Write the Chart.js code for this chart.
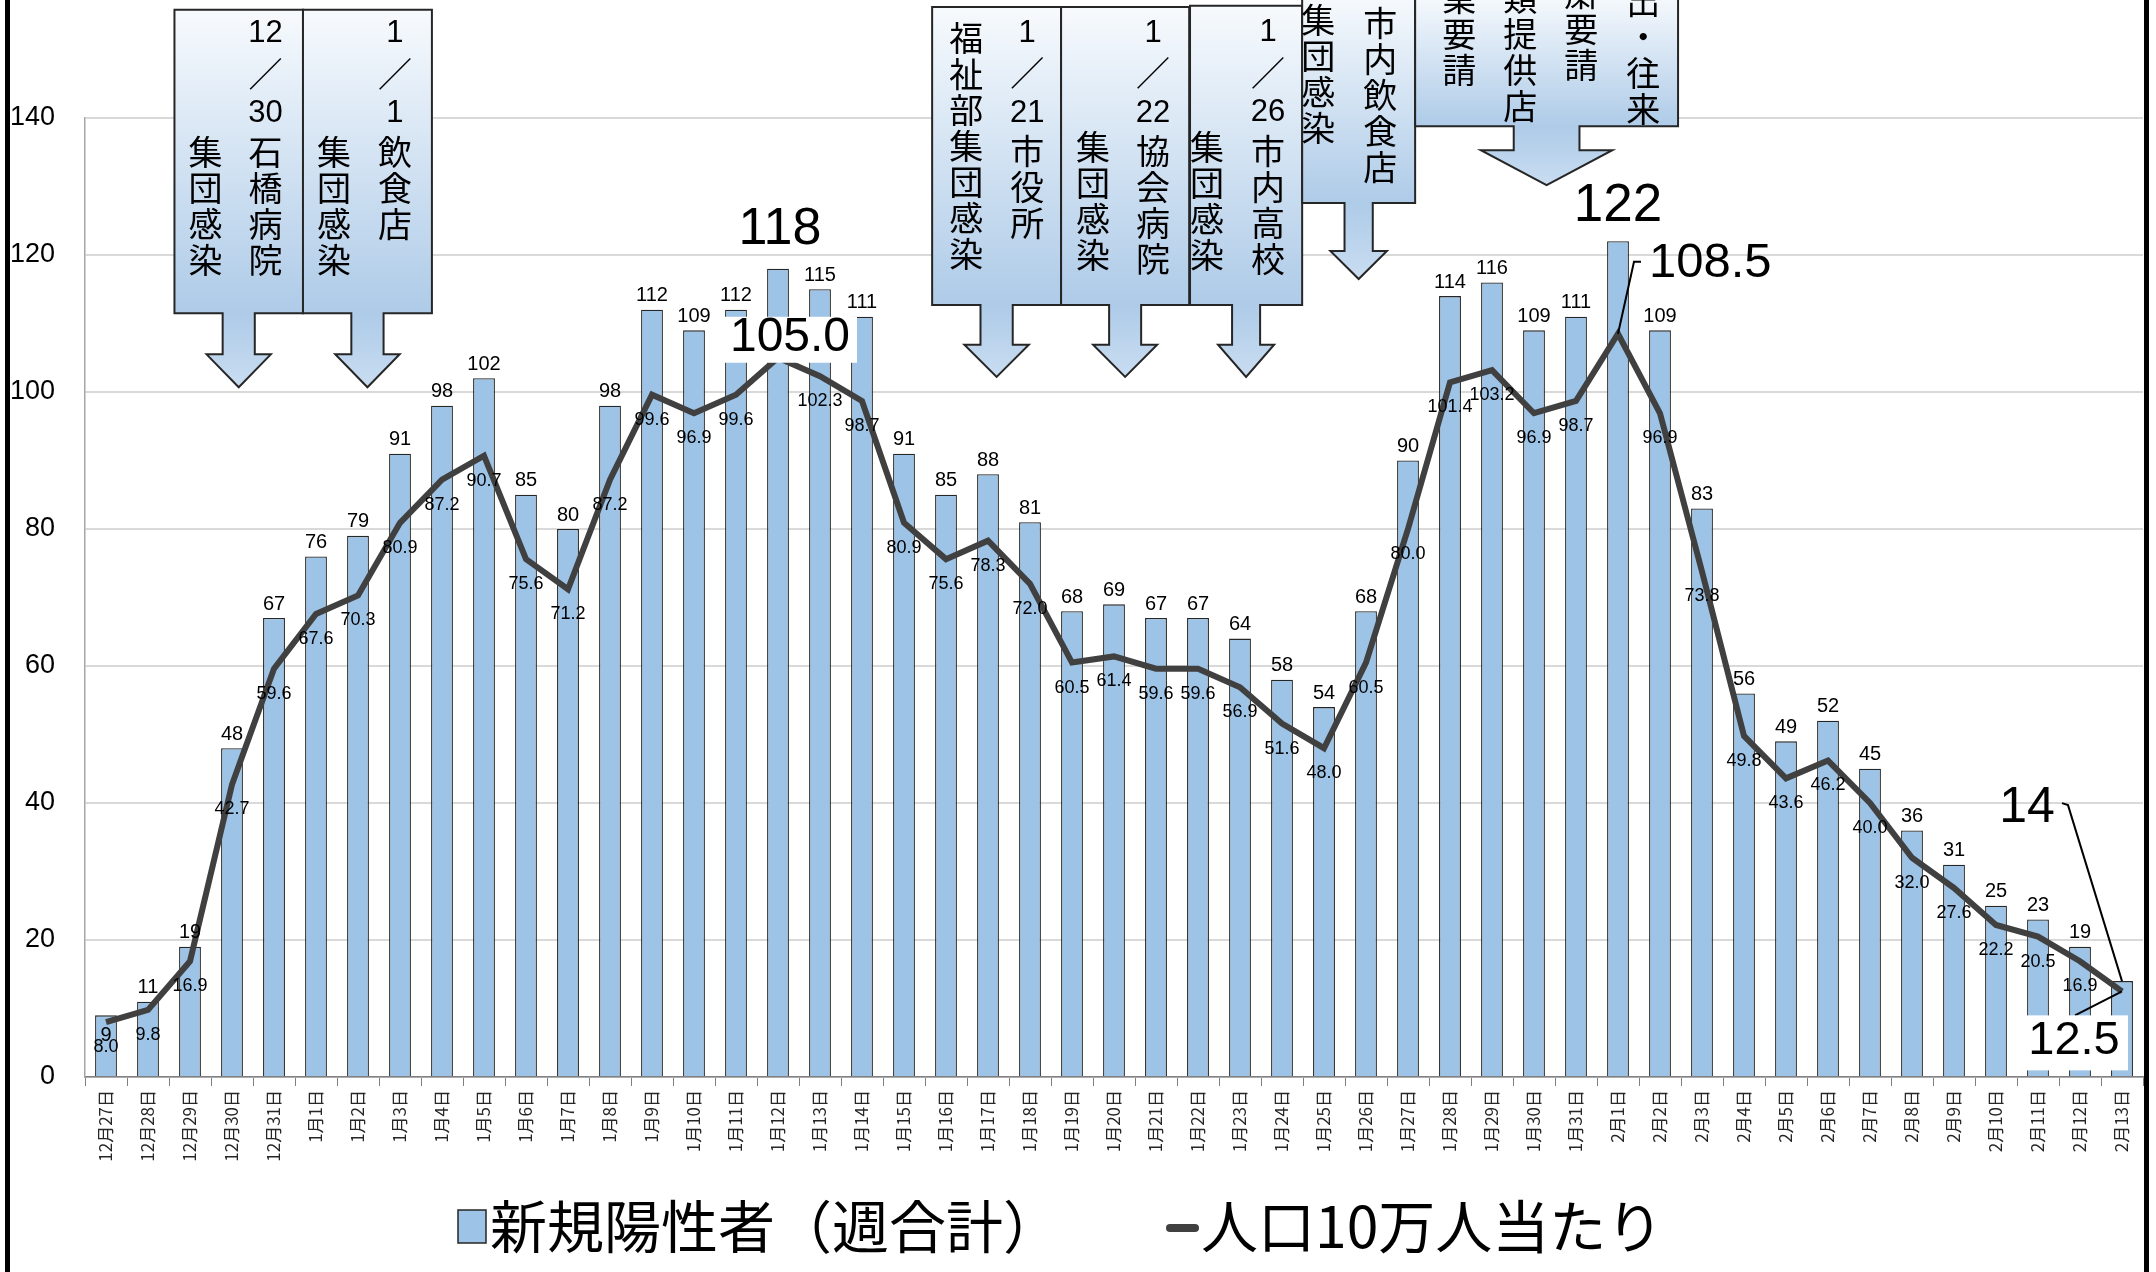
<!DOCTYPE html>
<html>
<head>
<meta charset="utf-8">
<script src="https://cdn.jsdelivr.net/npm/chart.js"></script>
<style>
  body { margin: 0; background: #fff; }
  canvas { display: block; }
</style>
</head>
<body>
<canvas id="grafico" width="2156" height="1272"></canvas>
<script>
var etiquetas = ["12月27日","12月28日","12月29日","12月30日","12月31日",
  "1月1日","1月2日","1月3日","1月4日","1月5日","1月6日","1月7日","1月8日","1月9日","1月10日",
  "1月11日","1月12日","1月13日","1月14日","1月15日","1月16日","1月17日","1月18日","1月19日","1月20日",
  "1月21日","1月22日","1月23日","1月24日","1月25日","1月26日","1月27日","1月28日","1月29日","1月30日","1月31日",
  "2月1日","2月2日","2月3日","2月4日","2月5日","2月6日","2月7日","2月8日","2月9日","2月10日",
  "2月11日","2月12日","2月13日"];

var positivos = [9,11,19,48,67,
  76,79,91,98,102,85,80,98,112,109,
  112,118,115,111,91,85,88,81,68,69,
  67,67,64,58,54,68,90,114,116,109,111,
  122,109,83,56,49,52,45,36,31,25,23,19,14];

var por_100mil = [8.0,9.8,16.9,42.7,59.6,
  67.6,70.3,80.9,87.2,90.7,75.6,71.2,87.2,99.6,96.9,
  99.6,105.0,102.3,98.7,80.9,75.6,78.3,72.0,60.5,61.4,
  59.6,59.6,56.9,51.6,48.0,60.5,80.0,101.4,103.2,96.9,98.7,
  108.5,96.9,73.8,49.8,43.6,46.2,40.0,32.0,27.6,22.2,20.5,16.9,12.5];

var marcas_y = [0,20,40,60,80,100,120,140];

var nombres = ["新規陽性者（週合計）","人口10万人当たり"];

var color_barra = "#9dc3e6";
var color_linea = "#404040";

// callouts: x in category index units, y in axis units
var anotaciones = [
  {desde:1.63, hasta:4.69, arriba:155.8, abajo:111.5, cuello:105.5, punta:100.7,
   columnas:[{dx:91, dy:24, t:["12","／","30","石","橋","病","院"]},
             {dx:31, dy:142, t:["集","団","感","染"]}]},
  {desde:4.69, hasta:7.76, arriba:155.8, abajo:111.5, cuello:105.5, punta:100.7,
   columnas:[{dx:92, dy:24, t:["1","／","1","飲","食","店"]},
             {dx:31, dy:142, t:["集","団","感","染"]}]},
  {desde:19.67, hasta:22.74, arriba:156.2, abajo:112.7, cuello:106.9, punta:102.2,
   columnas:[{dx:95, dy:26, t:["1","／","21","市","役","所"]},
             {dx:34, dy:31, t:["福","祉","部","集","団","感","染"]}]},
  {desde:22.74, hasta:25.79, arriba:156.2, abajo:112.7, cuello:106.9, punta:102.2,
   columnas:[{dx:92, dy:26, t:["1","／","22","協","会","病","院"]},
             {dx:32, dy:140, t:["集","団","感","染"]}]},
  {desde:25.81, hasta:28.48, arriba:156.4, abajo:112.7, cuello:106.9, punta:102.2,
   columnas:[{dx:78, dy:27, t:["1","／","26","市","内","高","校"]},
             {dx:17, dy:141, t:["集","団","感","染"]}]},
  {desde:28.48, hasta:31.17, arriba:158, abajo:127.6, cuello:120.6, punta:116.5,
   columnas:[{dx:16, dy:25, t:["集","団","感","染"]},
             {dx:78, dy:28, t:["市","内","飲","食","店"]}]},
  {desde:31.17, hasta:37.43, arriba:158, abajo:138.8, cuello:135.3, punta:130.2,
   columnas:[{dx:44, dy:-33, t:["休","業","要","請"]},
             {dx:105, dy:-33, t:["酒","類","提","供","店"]},
             {dx:166, dy:-38, t:["自","粛","要","請"]},
             {dx:228, dy:-30, t:["外","出","・","往","来"]}]}
];

var fuente_num = '"Liberation Sans", Arial, sans-serif';
var fuente_jp = '"Noto Sans CJK JP", "Noto Sans", sans-serif';

function alto_token(t){
  return /^[0-9／]+$/.test(t) ? 40 : 36;
}

function dibujar_flecha(ctx, a, sx, sy){
  var x1 = sx.getPixelForValue(a.desde), x2 = sx.getPixelForValue(a.hasta);
  var yT = sy.getPixelForValue(a.arriba), yB = sy.getPixelForValue(a.abajo);
  var yN = sy.getPixelForValue(a.cuello), yP = sy.getPixelForValue(a.punta);
  var cx = (x1 + x2) / 2, w = x2 - x1;
  var s = w * 0.125, h = w * 0.25;

  var grad = ctx.createLinearGradient(0, yT, 0, yP);
  grad.addColorStop(0, "#f7fafd");
  grad.addColorStop((yB - yT) / (yP - yT), "#aecbe8");
  grad.addColorStop(1, "#c9ddf1");

  ctx.beginPath();
  ctx.moveTo(x1, yT);
  ctx.lineTo(x2, yT);
  ctx.lineTo(x2, yB);
  ctx.lineTo(cx + s, yB);
  ctx.lineTo(cx + s, yN);
  ctx.lineTo(cx + h, yN);
  ctx.lineTo(cx, yP);
  ctx.lineTo(cx - h, yN);
  ctx.lineTo(cx - s, yN);
  ctx.lineTo(cx - s, yB);
  ctx.lineTo(x1, yB);
  ctx.closePath();
  ctx.fillStyle = grad;
  ctx.fill();
  ctx.lineWidth = 2;
  ctx.strokeStyle = "#262626";
  ctx.stroke();

  ctx.fillStyle = "#000";
  ctx.textAlign = "center";
  ctx.textBaseline = "middle";
  for (var c of a.columnas){
    var y = yT + c.dy;
    for (var k = 0; k < c.t.length; k++){
      var tk = c.t[k];
      if (k > 0) y += (alto_token(c.t[k-1]) + alto_token(tk)) / 2;
      if (/^[0-9]+$/.test(tk)) ctx.font = '31px ' + fuente_num;
      else ctx.font = '34px ' + fuente_jp;
      ctx.fillText(tk, x1 + c.dx, y);
    }
  }
}

var plugin_dibujo = {
  id: "dibujo",
  afterDatasetsDraw: function(chart){
    var ctx = chart.ctx;
    var sx = chart.scales.x, sy = chart.scales.y;
    var barras = chart.getDatasetMeta(0).data;
    var puntos = chart.getDatasetMeta(1).data;
    ctx.save();
    ctx.fillStyle = "#000";
    ctx.textAlign = "center";
    ctx.textBaseline = "middle";

    // normal bar labels
    ctx.font = '20px ' + fuente_num;
    for (var i = 0; i < barras.length; i++){
      if (i == 16 || i == 36 || i == 48) continue;
      var dy = (i == 0) ? 20 : -14;
      ctx.fillText(String(positivos[i]), barras[i].x, barras[i].y + dy);
    }
    // normal line labels
    ctx.font = '18px ' + fuente_num;
    for (i = 0; i < puntos.length; i++){
      if (i == 16 || i == 36 || i == 48) continue;
      ctx.fillText(por_100mil[i].toFixed(1), puntos[i].x, puntos[i].y + 25);
    }

    // big labels
    var b = barras[16];
    ctx.font = '52px ' + fuente_num;
    ctx.fillText(String(positivos[16]), b.x + 2, b.y - 39);
    b = barras[36];
    ctx.font = '53px ' + fuente_num;
    ctx.fillText(String(positivos[36]), b.x, b.y - 35);

    var p = puntos[16];
    ctx.fillStyle = "#fff";
    ctx.fillRect(p.x + 13 - 66, p.y - 18 - 23, 132, 46);
    ctx.fillStyle = "#000";
    ctx.font = '48px ' + fuente_num;
    ctx.fillText(por_100mil[16].toFixed(1), p.x + 12, p.y - 20);

    ctx.strokeStyle = "#000";
    ctx.lineWidth = 2;
    p = puntos[36];
    ctx.beginPath();
    ctx.moveTo(p.x, p.y);
    ctx.lineTo(p.x + 16, p.y - 72);
    ctx.lineTo(p.x + 23, p.y - 72);
    ctx.stroke();
    ctx.textAlign = "left";
    ctx.font = '49px ' + fuente_num;
    ctx.fillText(por_100mil[36].toFixed(1), p.x + 31, p.y - 70);
    ctx.textAlign = "center";

    b = barras[48];
    ctx.beginPath();
    ctx.moveTo(b.x - 60, b.y - 178);
    ctx.lineTo(b.x - 54, b.y - 176);
    ctx.lineTo(b.x, b.y);
    ctx.stroke();
    ctx.font = '50px ' + fuente_num;
    ctx.fillText(String(positivos[48]), b.x - 95, b.y - 173);

    p = puntos[48];
    ctx.beginPath();
    ctx.moveTo(p.x - 47, p.y + 24);
    ctx.lineTo(p.x, p.y);
    ctx.stroke();
    ctx.fillStyle = "#fff";
    ctx.fillRect(p.x - 95, p.y + 24, 101, 55);
    ctx.fillStyle = "#000";
    ctx.font = '47px ' + fuente_num;
    ctx.fillText(por_100mil[48].toFixed(1), p.x - 48, p.y + 50);

    // callouts
    for (var a of anotaciones) dibujar_flecha(ctx, a, sx, sy);

    // legend
    var x0 = chart.width / 2 - 620;
    var yl = 1226;
    ctx.fillStyle = color_barra;
    ctx.fillRect(x0, yl - 16, 28, 33);
    ctx.strokeStyle = "#262626";
    ctx.lineWidth = 1.5;
    ctx.strokeRect(x0, yl - 16, 28, 33);
    ctx.fillStyle = "#000";
    ctx.textAlign = "left";
    ctx.font = '57px ' + fuente_jp;
    ctx.fillText(nombres[0], x0 + 32, yl);
    var x1 = x0 + 32 + ctx.measureText(nombres[0]).width + 106;
    ctx.strokeStyle = color_linea;
    ctx.lineWidth = 8;
    ctx.lineCap = "round";
    ctx.beginPath();
    ctx.moveTo(x1 + 4, yl + 2);
    ctx.lineTo(x1 + 29, yl + 2);
    ctx.stroke();
    ctx.fillText(nombres[1], x1 + 35, yl);

    // picture frame
    ctx.fillStyle = "#000";
    ctx.fillRect(5, 0, 5, chart.height);
    ctx.fillRect(2144, 0, 5, chart.height);
    ctx.restore();
  }
};

var grafico = new Chart(document.getElementById("grafico"), {
  type: "bar",
  data: {
    labels: etiquetas,
    datasets: [
      {
        type: "bar",
        label: nombres[0],
        data: positivos,
        backgroundColor: color_barra,
        borderColor: "#262626",
        borderWidth: 1.3,
        barPercentage: 0.52,
        categoryPercentage: 1,
        order: 2
      },
      {
        type: "line",
        label: nombres[1],
        data: por_100mil,
        borderColor: color_linea,
        borderWidth: 6,
        pointRadius: 0,
        tension: 0,
        fill: false,
        order: 1
      }
    ]
  },
  options: {
    responsive: false,
    animation: false,
    devicePixelRatio: 1,
    layout: { padding: { top: 118, right: 13, left: 0, bottom: 0 } },
    plugins: {
      legend: { display: false },
      tooltip: { enabled: false }
    },
    scales: {
      x: {
        offset: true,
        grid: { display: true, drawOnChartArea: false, drawTicks: true, tickLength: 9, color: "#808080", offset: true },
        border: { color: "#808080", width: 1.5 },
        ticks: { minRotation: 90, maxRotation: 90, autoSkip: false, padding: 4, color: "#262626",
                 font: { family: "Noto Sans CJK JP", size: 17 } },
        afterFit: function(s){ s.height = 195; }
      },
      y: {
        min: marcas_y[0],
        max: marcas_y[marcas_y.length - 1],
        ticks: { stepSize: marcas_y[1] - marcas_y[0], padding: 30, color: "#000",
                 font: { family: "Liberation Sans", size: 27 } },
        grid: { color: "#d9d9d9", lineWidth: 2, drawTicks: false },
        border: { color: "#a6a6a6", width: 1.5 },
        afterFit: function(s){ s.width = 85; }
      }
    }
  },
  plugins: [plugin_dibujo]
});
</script>
</body>
</html>
